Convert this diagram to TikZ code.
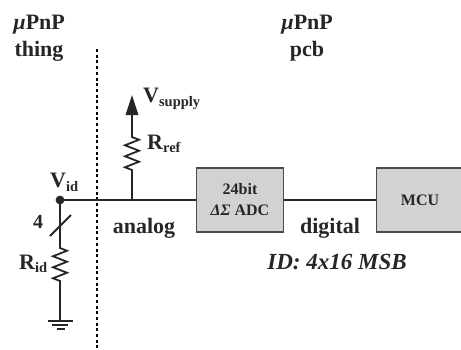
\documentclass[tikz,border=0pt]{standalone}
\usepackage{fontspec}
\setmainfont{Liberation Serif}
\usetikzlibrary{arrows.meta,decorations.pathmorphing}
\definecolor{wirecol}{HTML}{262626}
\definecolor{boxfill}{HTML}{D2D2D2}
\definecolor{boxline}{HTML}{4A4A4A}
\newcommand{\subtxt}[2]{\raisebox{#1}{\fontsize{14.5}{14.5}\selectfont #2}}
\tikzset{
  wire/.style={draw=wirecol,line width=1.8pt},
  resistor/.style={wire,decorate,decoration={zigzag,segment length=11pt,amplitude=7pt,pre length=1pt,post length=1pt}},
  block/.style={draw=boxline,fill=boxfill,line width=1.8pt,minimum width=87pt,minimum height=64pt,inner sep=0pt,align=center,text=wirecol},
  lbl/.style={inner sep=0pt,text=wirecol,font=\bfseries\fontsize{22}{27}\selectfont,align=center}
}
\begin{document}
\begin{tikzpicture}[x=1pt,y=-1pt]
    \useasboundingbox (0,0) rectangle (461,349);

    % wiring points
    \coordinate (Vid) at (60,200);
    \coordinate (Jref) at (132,200);
    \coordinate (RrefB) at (132,171);
    \coordinate (RrefT) at (132,135);
    \coordinate (Vsup) at (132,95);
    \coordinate (RidT) at (60,247);
    \coordinate (RidB) at (60,283);
    \coordinate (Gnd) at (60,321);
    \coordinate (SlashA) at (50,236);
    \coordinate (SlashB) at (71,215);
    \coordinate (DivT) at (97,49);
    \coordinate (DivB) at (97,348);

    % blocks
    \node[block,font=\bfseries\fontsize{16}{21}\selectfont] (ADC) at (240,200) {24bit\\{\itshape ΔΣ} ADC};
    \node[block,font=\bfseries\fontsize{16}{21}\selectfont] (MCU) at (420,200) {MCU};

    % divider
    \draw[draw=black,line width=2.8pt,dash pattern=on 3pt off 2.7pt] (DivT) -- (DivB);

    % wires
    \draw[wire] (Vid) -- (ADC.west);
    \draw[wire] (ADC.east) -- (MCU.west);
    \draw[wire] (Jref) -- (RrefB);
    \draw[resistor] (RrefB) -- (RrefT);
    \draw[wire,-{Triangle[length=20pt,width=12.5pt]}] (RrefT) -- (Vsup);
    \draw[wire] (Vid) -- (RidT);
    \draw[resistor] (RidT) -- (RidB);
    \draw[wire] (RidB) -- (Gnd);
    \draw[wire] (SlashA) -- (SlashB);
    \fill[wirecol] (Vid) circle (4.4pt);

    % ground
    \draw[wire] (48,321) -- (73,321);
    \draw[wire] (52,325) -- (68,325);
    \draw[wire] (57,329) -- (65,329);

    % labels
    \node[lbl] (TitleA) at (39,38) {{\itshape µ}PnP\\thing};
    \node[lbl] (TitleB) at (307,38) {{\itshape µ}PnP\\pcb};
    \node[lbl,anchor=base west] (VidL) at (50,187) {V\subtxt{-4pt}{id}};
    \node[lbl,anchor=base west] (VsupL) at (143,102) {V\subtxt{-4pt}{supply}};
    \node[lbl,anchor=base west] (RrefL) at (147,149) {R\subtxt{-3pt}{ref}};
    \node[lbl,anchor=base west] (RidL) at (19,269) {R\subtxt{-3pt}{id}};
    \node[lbl,anchor=base,font=\bfseries\fontsize{20}{20}\selectfont] (Four) at (38,228) {4};
    \node[lbl,anchor=base] (AnalogL) at (144,233) {analog};
    \node[lbl,anchor=base] (DigitalL) at (330,233) {digital};
    \node[lbl,anchor=base,font=\bfseries\itshape\fontsize{23}{23}\selectfont] (IdL) at (337,269) {ID: 4x16 MSB};
\end{tikzpicture}
\end{document}
